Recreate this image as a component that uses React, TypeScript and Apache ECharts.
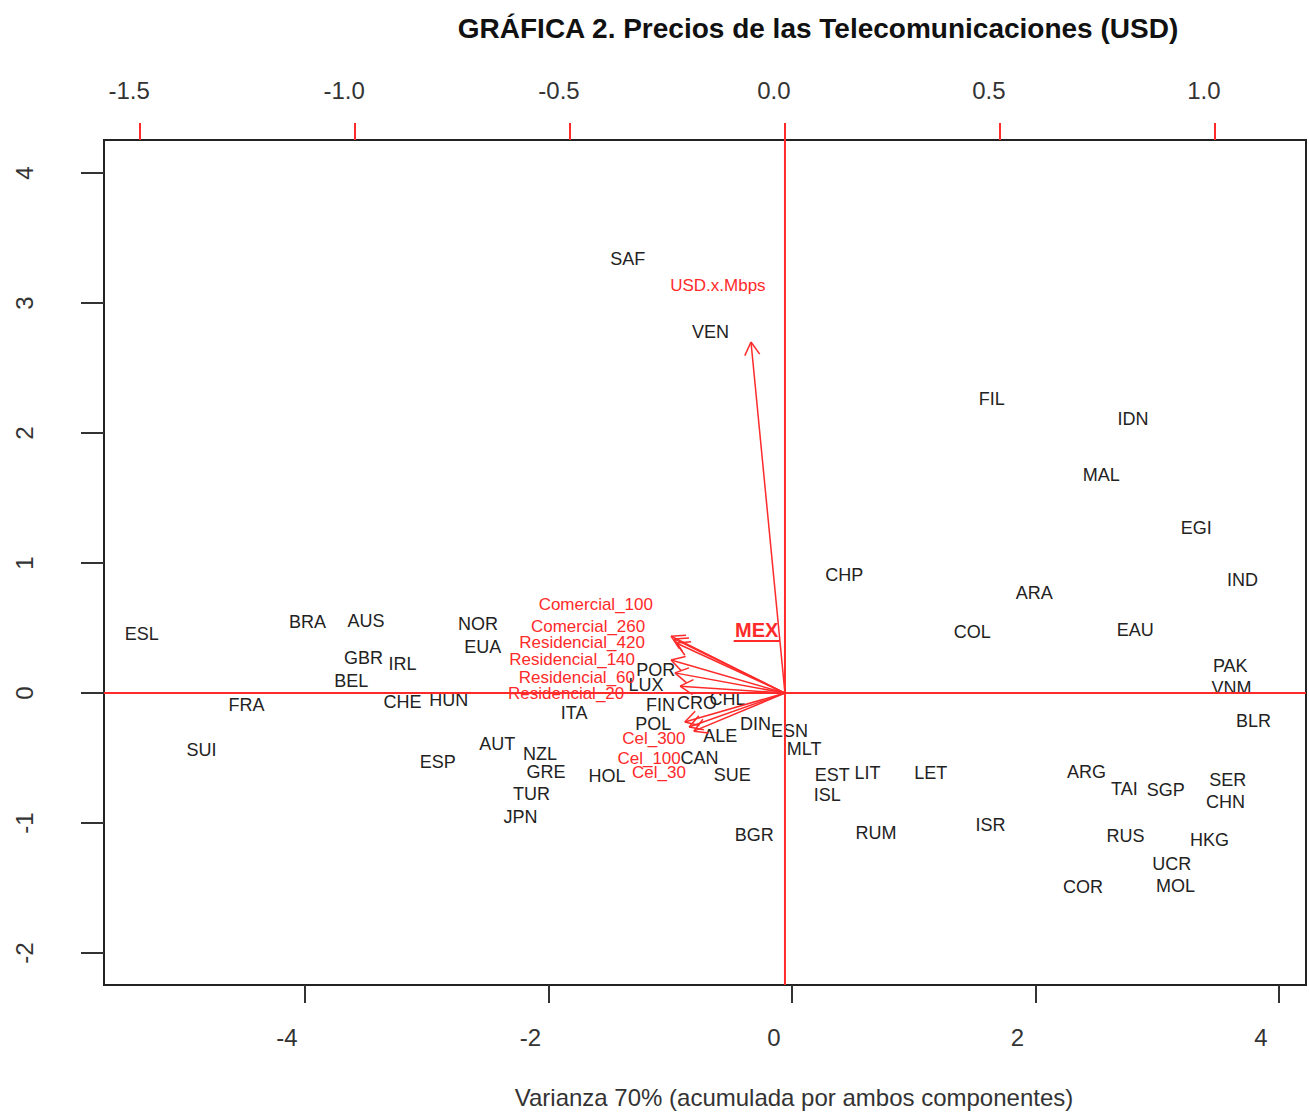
import React, { useEffect, useRef } from "react";
import * as echarts from "echarts";

// Country scores (primary axes: bottom / left)
const countries = [
  "ESL", "BRA", "AUS", "NOR", "EUA", "GBR", "IRL", "BEL", "FRA", "CHE", "HUN", "SUI",
  "ESP", "AUT", "NZL", "GRE", "TUR", "JPN", "ITA", "POR", "LUX", "FIN", "CRO", "CHL",
  "POL", "ALE", "CAN", "HOL", "SUE", "DIN", "ESN", "MLT", "BGR", "SAF", "VEN", "FIL",
  "IDN", "MAL", "EGI", "CHP", "ARA", "COL", "EAU", "IND", "PAK", "VNM", "BLR", "EST",
  "LIT", "ISL", "LET", "ARG", "TAI", "SGP", "SER", "CHN", "RUM", "ISR", "RUS", "HKG",
  "UCR", "MOL", "COR",
];
const pc1 = [
  -5.34, -3.98, -3.5, -2.58, -2.54, -3.52, -3.2, -3.62, -4.48, -3.2, -2.82, -4.85,
  -2.91, -2.42, -2.07, -2.02, -2.14, -2.23, -1.79, -1.12, -1.2, -1.08, -0.78, -0.53,
  -1.14, -0.59, -0.76, -1.52, -0.49, -0.3, -0.02, 0.1, -0.31, -1.35, -0.67, 1.64,
  2.8, 2.54, 3.32, 0.43, 1.99, 1.48, 2.82, 3.7, 3.6, 3.61, 3.79, 0.33,
  0.62, 0.29, 1.14, 2.42, 2.73, 3.07, 3.58, 3.56, 0.69, 1.63, 2.74, 3.43,
  3.12, 3.15, 2.39,
];
const pc2 = [
  0.454, 0.546, 0.554, 0.531, 0.354, 0.269, 0.223, 0.092, -0.092, -0.069, -0.054, -0.438,
  -0.531, -0.392, -0.469, -0.608, -0.777, -0.954, -0.154, 0.177, 0.062, -0.092, -0.077, -0.046,
  -0.238, -0.331, -0.5, -0.638, -0.631, -0.238, -0.292, -0.431, -1.092, 3.338, 2.777, 2.262,
  2.108, 1.677, 1.269, 0.908, 0.769, 0.469, 0.485, 0.869, 0.208, 0.038, -0.215, -0.631,
  -0.615, -0.785, -0.615, -0.608, -0.738, -0.746, -0.669, -0.838, -1.077, -1.015, -1.1, -1.131,
  -1.315, -1.485, -1.492,
];

// Highlighted country
const highlightName = "MEX";
const highlightPc1 = -0.29;
const highlightPc2 = 0.485;

// Variable loadings (secondary axes: top / right)
const variables = [
  "USD.x.Mbps", "Comercial_100", "Comercial_260", "Residencial_420", "Residencial_140",
  "Residencial_60", "Residencial_20", "Cel_300", "Cel_100", "Cel_30",
];
const loadX = [-0.079, -0.265, -0.258, -0.253, -0.265, -0.256, -0.244, -0.233, -0.223, -0.212];
const loadY = [0.765, 0.124, 0.118, 0.109, 0.072, 0.044, 0.015, -0.063, -0.074, -0.083];
const labelX = [-0.156, -0.44, -0.458, -0.472, -0.495, -0.484, -0.509, -0.305, -0.316, -0.293];
const labelY = [0.889, 0.192, 0.146, 0.111, 0.074, 0.033, 0.0, -0.1, -0.142, -0.174];

// Axes
const bottomTicks = [-4, -2, 0, 2, 4];
const leftTicks = [-2, -1, 0, 1, 2, 3, 4];
const topTicks = [-1.5, -1.0, -0.5, 0.0, 0.5, 1.0];
const bottomRange = [-5.651, 4.222];
const leftRange = [-2.246, 4.254];
const topRange = [-1.584, 1.212];
const rightRange = [-0.636, 1.205];

const titleText = "GRÁFICA 2. Precios de las Telecomunicaciones (USD)";
const xTitle = "Varianza 70% (acumulada por ambos componentes)";

const RED = "#ff2a2a";
const FONT = '"Liberation Sans", Arial, sans-serif';

export default function App() {
  const ref = useRef<HTMLDivElement>(null);
  useEffect(() => {
    if (!ref.current) return;
    const chart = echarts.init(ref.current, null, { renderer: "svg" });
    const option: any = {
      animation: false,
      backgroundColor: "#ffffff",
      grid: {
        left: 104,
        right: 3,
        top: 140,
        bottom: 127,
        show: true,
        borderColor: "#222",
        borderWidth: 2,
        backgroundColor: "transparent",
      },
      graphic: [
        {
          type: "text",
          x: 818,
          y: 28,
          style: {
            text: titleText,
            fill: "#111",
            fontSize: 28,
            fontWeight: "bold",
            fontFamily: FONT,
            align: "center",
            verticalAlign: "middle",
          },
        },
        {
          type: "text",
          x: 794,
          y: 1097,
          style: {
            text: xTitle,
            fill: "#333",
            fontSize: 24,
            fontFamily: FONT,
            align: "center",
            verticalAlign: "middle",
          },
        },
      ],
      xAxis: [
        {
          type: "value",
          position: "bottom",
          min: bottomRange[0],
          max: bottomRange[1],
          axisLine: { show: false, onZero: false },
          splitLine: { show: false },
          axisTick: { show: true, customValues: bottomTicks, length: 18, lineStyle: { color: "#333", width: 2 } },
          axisLabel: {
            customValues: bottomTicks,
            formatter: (v: number) => String(v),
            fontSize: 24,
            fontFamily: FONT,
            color: "#333",
            margin: 40,
            padding: [0, 36, 0, 0],
          },
        },
        {
          type: "value",
          position: "top",
          min: topRange[0],
          max: topRange[1],
          axisLine: { show: false, onZero: false },
          splitLine: { show: false },
          axisTick: { show: true, customValues: topTicks, length: 17, lineStyle: { color: RED, width: 2 } },
          axisLabel: {
            customValues: topTicks,
            formatter: (v: number) => v.toFixed(1),
            fontSize: 24,
            fontFamily: FONT,
            color: "#333",
            margin: 38,
            padding: [0, 22, 0, 0],
          },
        },
      ],
      yAxis: [
        {
          type: "value",
          position: "left",
          min: leftRange[0],
          max: leftRange[1],
          axisLine: { show: false, onZero: false },
          splitLine: { show: false },
          axisTick: { show: true, customValues: leftTicks, length: 23, lineStyle: { color: "#333", width: 2 } },
          axisLabel: {
            customValues: leftTicks,
            formatter: (v: number) => String(v),
            rotate: 90,
            fontSize: 24,
            fontFamily: FONT,
            color: "#333",
            margin: 68,
          },
        },
        {
          type: "value",
          position: "right",
          show: false,
          min: rightRange[0],
          max: rightRange[1],
          axisLine: { onZero: false },
        },
      ],
      series: [
        {
          type: "line",
          xAxisIndex: 1,
          yAxisIndex: 1,
          symbol: "none",
          silent: true,
          data: [[topRange[0], 0], [topRange[1], 0]],
          lineStyle: { color: RED, width: 2 },
        },
        {
          type: "line",
          xAxisIndex: 1,
          yAxisIndex: 1,
          symbol: "none",
          silent: true,
          data: [[0, rightRange[0]], [0, rightRange[1]]],
          lineStyle: { color: RED, width: 2 },
        },
        {
          type: "custom",
          xAxisIndex: 0,
          yAxisIndex: 0,
          silent: true,
          data: countries.map((c, i) => [pc1[i], pc2[i]]),
          renderItem: (params: any, api: any) => {
            const p = api.coord([api.value(0), api.value(1)]);
            return {
              type: "text",
              x: p[0],
              y: p[1],
              style: {
                text: countries[params.dataIndex],
                fill: "#222",
                fontSize: 18,
                fontFamily: FONT,
                align: "center",
                verticalAlign: "middle",
              },
            };
          },
        },
        {
          type: "custom",
          xAxisIndex: 1,
          yAxisIndex: 1,
          silent: true,
          data: variables.map((v, i) => [loadX[i], loadY[i]]),
          renderItem: (params: any, api: any) => {
            const o = api.coord([0, 0]);
            const t = api.coord([api.value(0), api.value(1)]);
            const a = Math.atan2(t[1] - o[1], t[0] - o[0]);
            const L = 15;
            const s = Math.PI / 6;
            const b1 = [t[0] - L * Math.cos(a - s), t[1] - L * Math.sin(a - s)];
            const b2 = [t[0] - L * Math.cos(a + s), t[1] - L * Math.sin(a + s)];
            const st = { stroke: RED, lineWidth: 1.5 };
            return {
              type: "group",
              children: [
                { type: "line", shape: { x1: o[0], y1: o[1], x2: t[0], y2: t[1] }, style: st },
                { type: "line", shape: { x1: t[0], y1: t[1], x2: b1[0], y2: b1[1] }, style: st },
                { type: "line", shape: { x1: t[0], y1: t[1], x2: b2[0], y2: b2[1] }, style: st },
              ],
            };
          },
        },
        {
          type: "custom",
          xAxisIndex: 1,
          yAxisIndex: 1,
          silent: true,
          data: variables.map((v, i) => [labelX[i], labelY[i]]),
          renderItem: (params: any, api: any) => {
            const p = api.coord([api.value(0), api.value(1)]);
            return {
              type: "text",
              x: p[0],
              y: p[1],
              style: {
                text: variables[params.dataIndex],
                fill: RED,
                fontSize: 17,
                fontFamily: FONT,
                align: "center",
                verticalAlign: "middle",
              },
            };
          },
        },
        {
          type: "custom",
          xAxisIndex: 0,
          yAxisIndex: 0,
          silent: true,
          data: [[highlightPc1, highlightPc2]],
          renderItem: (params: any, api: any) => {
            const p = api.coord([api.value(0), api.value(1)]);
            return {
              type: "group",
              children: [
                {
                  type: "text",
                  x: p[0],
                  y: p[1],
                  style: {
                    text: highlightName,
                    fill: RED,
                    fontSize: 20,
                    fontWeight: "bold",
                    fontFamily: FONT,
                    align: "center",
                    verticalAlign: "middle",
                  },
                },
                {
                  type: "line",
                  shape: { x1: p[0] - 23, y1: p[1] + 11, x2: p[0] + 23, y2: p[1] + 11 },
                  style: { stroke: RED, lineWidth: 2 },
                },
              ],
            };
          },
        },
      ],
    };
    chart.setOption(option);
    return () => chart.dispose();
  }, []);
  return (
    <div
      ref={ref}
      style={{ position: "fixed", left: 0, top: 0, width: 1309, height: 1112, background: "#fff" }}
    />
  );
}
